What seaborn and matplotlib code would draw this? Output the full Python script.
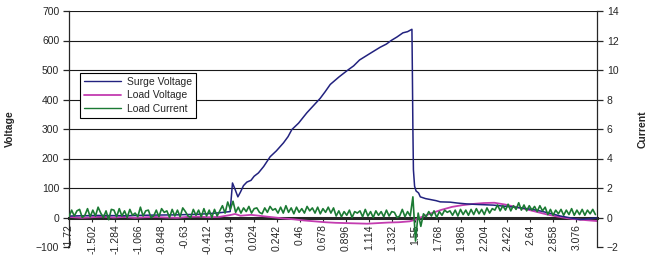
import numpy as np
import matplotlib
matplotlib.use("Agg")
import matplotlib.pyplot as plt
from matplotlib.lines import Line2D
import seaborn as sns

# Surge voltage (left axis, V)
surge_t = [-1.72, -1.45, -1.2, -0.95, -0.7, -0.5, -0.4, -0.3, -0.25, -0.197, -0.175, -0.15,
           -0.124, -0.1, -0.071, -0.039, 0.0, 0.03, 0.07, 0.12, 0.181, 0.24, 0.307, 0.35,
           0.386, 0.45, 0.49, 0.528, 0.6, 0.654, 0.7, 0.749, 0.83, 0.916, 0.97, 1.026,
           1.12, 1.22, 1.28, 1.325, 1.38, 1.436, 1.48, 1.521, 1.525, 1.53, 1.535, 1.546,
           1.56, 1.584, 1.6, 1.65, 1.694, 1.75, 1.789, 1.883, 1.95, 2.04, 2.15, 2.29,
           2.4, 2.546, 2.65, 2.735, 2.83, 2.924, 3.0, 3.11, 3.2, 3.27]
surge_v = [5, 7, 6, 8, 9, 11, 13, 16, 18, 20, 117, 95,
           70, 86, 108, 120, 126, 140, 151, 173, 206, 226, 253, 274,
           298, 320, 338, 355, 383, 404, 426, 451, 476, 500, 514, 534,
           555, 577, 588, 600, 612, 626, 630, 638, 500, 300, 162, 106,
           90, 83, 70, 64, 61, 57, 53, 52, 49, 46, 44, 42,
           38, 33, 28, 22, 14, 5, 0, -7, -4, -1]

# Load voltage (left axis, V)
load_v_t = [-1.72, -1.6, -1.5, -1.4, -1.3, -1.2, -1.1, -1.0, -0.9, -0.8, -0.7, -0.6,
            -0.5, -0.4, -0.3, -0.2, -0.15, -0.1, 0.0, 0.1, 0.2, 0.3, 0.4, 0.5,
            0.6, 0.7, 0.8, 0.9, 1.0, 1.1, 1.2, 1.3, 1.4, 1.5, 1.55, 1.6,
            1.7, 1.8, 1.9, 2.0, 2.1, 2.2, 2.3, 2.4, 2.5, 2.6, 2.7, 2.8,
            2.9, 3.0, 3.1, 3.2, 3.27]
load_v = [2, -1, 1, 3, 0, 2, -1, 1, 2, 0, -1, 2,
          3, 1, 2, 8, 12, 6, 9, 5, 1, -3, -6, -10,
          -13, -16, -18, -19, -20, -21, -19, -17, -16, -13, -8, 0,
          14, 26, 36, 42, 46, 49, 50, 44, 36, 28, 19, 10,
          3, -3, -7, -10, -12]

# Load current (right axis, A), one sample every 0.025
load_i = [0.05, 0.5, 0.1, 0.45, 0.55, 0.0, 0.15, 0.6, 0.05, 0.5,
          0.1, 0.7, 0.3, 0.0, 0.45, -0.15, 0.55, 0.5, 0.05, 0.6,
          0.1, 0.45, 0.0, 0.55, 0.15, 0.3, 0.05, 0.7, 0.1, 0.45,
          0.5, 0.0, 0.1, 0.5, 0.05, 0.6, 0.35, 0.45, 0.0, 0.55,
          0.1, 0.5, 0.05, 0.65, 0.4, 0.1, 0.0, 0.55, 0.15, 0.5,
          0.05, 0.6, 0.1, 0.5, 0.0, 0.55, 0.1,
          0.45, 0.8, 0.3, 1.05, 0.55, 1.1,
          0.35, 0.7, 0.3, 0.65, 0.4, 0.75, 0.3, 0.6, 0.65, 0.35,
          0.25, 0.65, 0.35, 0.75, 0.5, 0.6, 0.3, 0.7, 0.3, 0.8,
          0.35, 0.65, 0.25, 0.7, 0.35, 0.6, 0.3, 0.75, 0.45, 0.65,
          0.3, 0.7, 0.25, 0.6, 0.35, 0.7, 0.3, 0.65,
          0.1, 0.45, 0.05, 0.4, 0.15, 0.5, 0.0, 0.4, 0.3, 0.45,
          0.05, 0.55, 0.1, 0.4, 0.0, 0.45, 0.15, 0.4, 0.05, 0.5,
          0.1, 0.4, 0.35, 0.0, 0.1, 0.55, 0.05, 0.4, 0.1,
          1.4, -1.6, 0.3, -0.6, 0.25,
          0.05, 0.4, 0.1, 0.45, 0.0, 0.4, 0.15, 0.5, 0.35, 0.45,
          0.15, 0.5, 0.1, 0.55, 0.2, 0.5, 0.15, 0.55, 0.2, 0.6,
          0.25, 0.55, 0.2, 0.65, 0.3, 0.6,
          0.5, 0.85, 0.45, 0.8, 0.5, 0.9, 0.45, 0.8, 0.55, 1.0,
          0.5, 0.85, 0.45, 0.8, 0.5, 0.75, 0.4, 0.8, 0.45, 0.7,
          0.2, 0.55, 0.15, 0.5, 0.25, 0.55, 0.15, 0.5, 0.2, 0.6,
          0.15, 0.5, 0.2, 0.55, 0.15, 0.5, 0.25, 0.55, 0.2]
load_i_t = -1.72 + 0.025 * np.arange(len(load_i))

x_ticks = [-1.72, -1.502, -1.284, -1.066, -0.848, -0.63, -0.412, -0.194, 0.024, 0.242,
           0.46, 0.678, 0.896, 1.114, 1.332, 1.55, 1.768, 1.986, 2.204, 2.422,
           2.64, 2.858, 3.076]
x_tick_labels = ["-1.72", "-1.502", "-1.284", "-1.066", "-0.848", "-0.63", "-0.412",
                 "-0.194", "0.024", "0.242", "0.46", "0.678", "0.896", "1.114", "1.332",
                 "1.55", "1.768", "1.986", "2.204", "2.422", "2.64", "2.858", "3.076"]
volt_ticks = [-100, 0, 100, 200, 300, 400, 500, 600, 700]
curr_ticks = [-2, 0, 2, 4, 6, 8, 10, 12, 14]

navy = "#22227f"
magenta = "#c33cb0"
green = "#1b7a33"

sns.set_style("ticks")
plt.rcParams['font.family'] = ['Liberation Sans', 'DejaVu Sans']
plt.rcParams['font.size'] = 7.5

fig = plt.figure(figsize=(6.46, 2.64), dpi=100)
ax = fig.add_axes([69 / 646, 17 / 264, 528 / 646, 236 / 264])
ax2 = ax.twinx()

# x axis crosses at zero volts (set before ticks: it resets them)
ax.spines['bottom'].set_position(('data', 0))
ax.spines['bottom'].set_linewidth(2.2)
ax.spines['bottom'].set_zorder(1)

# gridlines
for g in volt_ticks[2:]:
    ax.axhline(g, color="#1a1a1a", lw=0.8, zorder=0)

sns.lineplot(x=surge_t, y=surge_v, ax=ax, color=navy, lw=1.1, zorder=3)
sns.lineplot(x=load_v_t, y=load_v, ax=ax, color=magenta, lw=1.3, zorder=2)
sns.lineplot(x=load_i_t, y=load_i, ax=ax2, color=green, lw=1.2)

ax.set_xlim(-1.72, 3.27)
ax.set_ylim(-100, 700)
ax2.set_ylim(-2, 14)
ax.set_yticks(volt_ticks)
ax2.set_yticks(curr_ticks)
ax.set_xticks(x_ticks)
ax.set_xticklabels(x_tick_labels)

ax.spines['top'].set_visible(False)
ax2.spines['top'].set_visible(False)
ax2.spines['bottom'].set_visible(False)
ax.spines['left'].set_linewidth(0.9)
ax2.spines['right'].set_linewidth(0.9)
ax2.spines['left'].set_visible(False)
ax.spines['right'].set_visible(False)

ax.tick_params(axis='y', direction='out', length=4, width=0.9, pad=3, labelsize=7.5)
ax2.tick_params(axis='y', direction='out', length=4, width=0.9, pad=3, labelsize=7.5)
ax.tick_params(axis='x', direction='out', length=3, width=0.8, pad=2, labelsize=7.5,
               labelrotation=90)

ax.set_xlabel("")
ax.set_ylabel("Voltage", fontsize=7.5, fontweight='bold')
ax2.set_ylabel("Current", fontsize=7.5, fontweight='bold')
ax.yaxis.set_label_coords(-0.102, 0.5)
ax2.yaxis.set_label_coords(1.076, 0.5)

handles = [Line2D([], [], color=navy, lw=1.0),
           Line2D([], [], color=magenta, lw=1.3),
           Line2D([], [], color=green, lw=1.0)]
leg = ax2.legend(handles, ["Surge Voltage", "Load Voltage", "Load Current"],
                 loc='upper left', bbox_to_anchor=(0.021, 0.737), borderaxespad=0,
                 fancybox=False, framealpha=1, edgecolor='black', fontsize=7.5,
                 handlelength=3.6, labelspacing=0.35, borderpad=0.35, handletextpad=0.6)
leg.get_frame().set_linewidth(0.8)

fig.savefig("out.png", dpi=100)
